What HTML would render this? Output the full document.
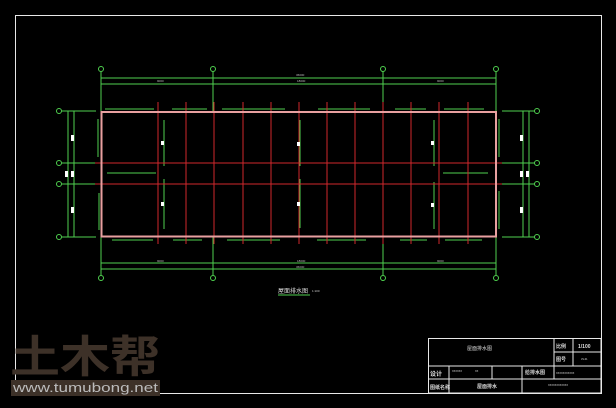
<!DOCTYPE html>
<html><head><meta charset="utf-8"><style>
html,body{margin:0;padding:0;background:#000;width:616px;height:408px;overflow:hidden}
svg{display:block}
text{font-family:"Liberation Sans","Noto Sans CJK SC",sans-serif}
</style></head><body>
<svg width="616" height="408" viewBox="0 0 616 408" xmlns="http://www.w3.org/2000/svg">
<rect width="616" height="408" fill="#000"/>
<rect x="15.5" y="15.5" width="586" height="378" fill="none" stroke="#e8e8e8" stroke-width="1"/>
<g stroke="#4fd04f" stroke-width="1" fill="none">
<line x1="101" y1="78" x2="496" y2="78"/>
<line x1="101" y1="84" x2="496" y2="84"/>
<line x1="101" y1="263" x2="496" y2="263"/>
<line x1="101" y1="269" x2="496" y2="269"/>
<line x1="101" y1="72" x2="101" y2="112"/><line x1="213" y1="72" x2="213" y2="112"/>
<line x1="383" y1="72" x2="383" y2="112"/><line x1="496" y1="72" x2="496" y2="112"/>
<line x1="101" y1="237" x2="101" y2="275"/><line x1="213" y1="237" x2="213" y2="275"/>
<line x1="383" y1="237" x2="383" y2="275"/><line x1="496" y1="237" x2="496" y2="275"/>
<line x1="68" y1="111" x2="68" y2="237"/><line x1="74" y1="111" x2="74" y2="237"/>
<line x1="523" y1="111" x2="523" y2="237"/><line x1="529" y1="111" x2="529" y2="237"/>
<line x1="62" y1="111" x2="96" y2="111"/><line x1="62" y1="163" x2="96" y2="163"/>
<line x1="62" y1="184" x2="96" y2="184"/><line x1="62" y1="237" x2="96" y2="237"/>
<line x1="502" y1="111" x2="535" y2="111"/><line x1="502" y1="163" x2="535" y2="163"/>
<line x1="502" y1="184" x2="535" y2="184"/><line x1="502" y1="237" x2="535" y2="237"/>
<g stroke-width="1">
<circle cx="101" cy="69" r="2.5"/><circle cx="213" cy="69" r="2.5"/><circle cx="383" cy="69" r="2.5"/><circle cx="496" cy="69" r="2.5"/>
<circle cx="101" cy="278" r="2.5"/><circle cx="213" cy="278" r="2.5"/><circle cx="383" cy="278" r="2.5"/><circle cx="496" cy="278" r="2.5"/>
<circle cx="59" cy="111" r="2.5"/><circle cx="59" cy="163" r="2.5"/><circle cx="59" cy="184" r="2.5"/><circle cx="59" cy="237" r="2.5"/>
<circle cx="537" cy="111" r="2.5"/><circle cx="537" cy="163" r="2.5"/><circle cx="537" cy="184" r="2.5"/><circle cx="537" cy="237" r="2.5"/>
</g>
<line x1="105" y1="109" x2="154" y2="109"/><line x1="172" y1="109" x2="207" y2="109"/>
<line x1="222" y1="109" x2="285" y2="109"/><line x1="318" y1="109" x2="370" y2="109"/>
<line x1="395" y1="109" x2="426" y2="109"/><line x1="444" y1="109" x2="484" y2="109"/>
<line x1="112" y1="240" x2="153" y2="240"/><line x1="173" y1="240" x2="202" y2="240"/>
<line x1="227" y1="240" x2="280" y2="240"/><line x1="317" y1="240" x2="366" y2="240"/>
<line x1="400" y1="240" x2="427" y2="240"/><line x1="445" y1="240" x2="482" y2="240"/>
<line x1="98" y1="119" x2="98" y2="157"/><line x1="99" y1="193" x2="99" y2="230"/>
<line x1="164" y1="120" x2="164" y2="166"/><line x1="164" y1="179" x2="164" y2="229"/>
<line x1="300" y1="120" x2="300" y2="166"/><line x1="300" y1="179" x2="300" y2="228"/>
<line x1="434" y1="120" x2="434" y2="166"/><line x1="434" y1="182" x2="434" y2="229"/>
<line x1="499" y1="119" x2="499" y2="157"/><line x1="499" y1="191" x2="499" y2="229"/>
<line x1="107" y1="173" x2="156" y2="173"/><line x1="443" y1="173" x2="488" y2="173"/>
<line x1="278" y1="295" x2="310" y2="295"/>
</g>
<g stroke="#d0282c" stroke-width="1">
<line x1="95" y1="163" x2="502" y2="163"/><line x1="95" y1="184" x2="502" y2="184"/>
<line x1="158" y1="102" x2="158" y2="244"/><line x1="186" y1="102" x2="186" y2="244"/>
<line x1="214" y1="102" x2="214" y2="244"/><line x1="243" y1="102" x2="243" y2="244"/>
<line x1="271" y1="102" x2="271" y2="244"/><line x1="299" y1="102" x2="299" y2="244"/>
<line x1="327" y1="102" x2="327" y2="244"/><line x1="355" y1="102" x2="355" y2="244"/>
<line x1="383" y1="102" x2="383" y2="244"/><line x1="411" y1="102" x2="411" y2="244"/>
<line x1="439" y1="102" x2="439" y2="244"/><line x1="468" y1="102" x2="468" y2="244"/>
</g>
<rect x="101.5" y="112" width="394.5" height="124.5" fill="none" stroke="#e8a0a0" stroke-width="2"/>
<g fill="#fff">
<rect x="71" y="135" width="3" height="6"/><rect x="71" y="171" width="3" height="6"/><rect x="65" y="171" width="3" height="6"/><rect x="71" y="207" width="3" height="6"/>
<rect x="520" y="135" width="3" height="6"/><rect x="520" y="171" width="3" height="6"/><rect x="526" y="171" width="3" height="6"/><rect x="520" y="207" width="3" height="6"/>
<rect x="161" y="141" width="3" height="4"/><rect x="161" y="202" width="3" height="4"/>
<rect x="297" y="142" width="3" height="4"/><rect x="297" y="202" width="3" height="4"/>
<rect x="431" y="141" width="3" height="4"/><rect x="431" y="203" width="3" height="4"/>
</g>
<g fill="#bbb" font-size="3">
<text x="157" y="82">9000</text><text x="297" y="82">18000</text><text x="437" y="82">9000</text><text x="296" y="76">36000</text>
<text x="157" y="262">9000</text><text x="297" y="262">18000</text><text x="437" y="262">9000</text><text x="296" y="268">36000</text>
</g>
<text x="278" y="293" fill="#ddd" font-size="6">屋面排水图</text>
<text x="312" y="292" fill="#ccc" font-size="3">1:100</text>
<g stroke="#e8e8e8" stroke-width="1" fill="none">
<rect x="428.5" y="338.5" width="172.5" height="54.5"/>
<line x1="428" y1="366" x2="601" y2="366"/><line x1="428" y1="379" x2="601" y2="379"/>
<line x1="554" y1="352" x2="601" y2="352"/>
<line x1="554" y1="338" x2="554" y2="379"/><line x1="573" y1="338" x2="573" y2="366"/>
<line x1="449" y1="366" x2="449" y2="393"/><line x1="492" y1="366" x2="492" y2="379"/>
<line x1="522" y1="366" x2="522" y2="393"/>
</g>
<g fill="#ddd">
<text x="467" y="350" font-size="5">屋面排水图</text>
<text x="556" y="348" font-size="5" font-weight="bold">比例</text>
<text x="578" y="348" font-size="5" font-weight="bold">1/100</text>
<text x="556" y="361" font-size="5" font-weight="bold">图号</text>
<text x="581" y="360" font-size="2.5">JS-01</text>
<text x="430" y="376" font-size="6" font-weight="bold">设计</text>
<text x="430" y="389" font-size="5" font-weight="bold">图纸名称</text>
<text x="525" y="374" font-size="5" font-weight="bold">给排水图</text>
<text x="477" y="388" font-size="5" font-weight="bold">屋面排水</text>
<text x="452" y="372" font-size="2.5">XXXXXX</text><text x="475" y="372" font-size="2.5">XX</text>
<text x="556" y="374" font-size="2.5">XXXXXXXXXXX</text>
<text x="548" y="386" font-size="2.5">XXXXXXXXXXXX</text>
</g>
<text x="10" y="372" fill="#3d3128" font-size="44" font-weight="bold" font-family="'Noto Sans CJK SC',sans-serif" textLength="150" lengthAdjust="spacingAndGlyphs">土木帮</text>
<rect x="11" y="380" width="149" height="16" fill="#3d3128"/>
<text x="13" y="392" fill="#bbb" font-size="13" font-family="'Liberation Mono',monospace" textLength="145" lengthAdjust="spacingAndGlyphs">www.tumubong.net</text>
</svg>
</body></html>
